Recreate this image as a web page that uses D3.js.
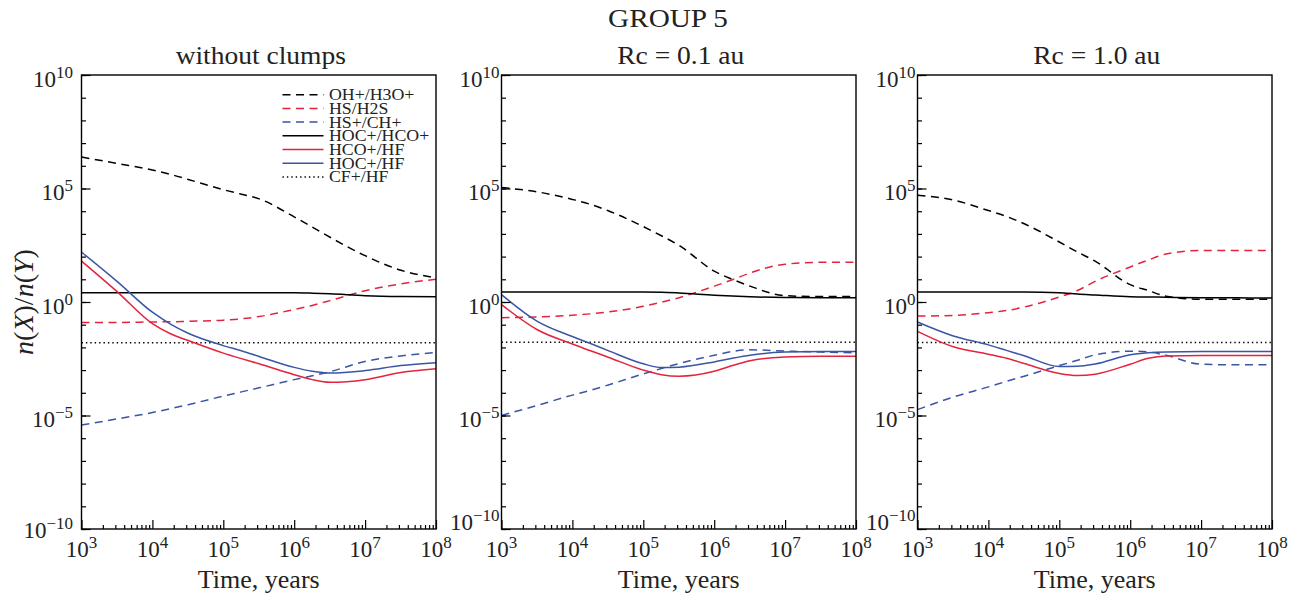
<!DOCTYPE html>
<html><head><meta charset="utf-8">
<script src="https://cdn.jsdelivr.net/npm/d3@7"></script>
<style>
body{margin:0;background:#fff;}
svg{display:block;font-family:"Liberation Serif","Times New Roman",serif;}
</style></head><body>
<svg id="chart" width="1304" height="596"></svg>
<script>
// ---------- data ----------
const mainTitle = "GROUP 5";
const panelTitles = ["without clumps", "Rc = 0.1 au", "Rc = 1.0 au"];
const xAxisTitle = "Time, years";
const seriesNames = ["OH+/H3O+", "HS/H2S", "HS+/CH+", "HOC+/HCO+", "HCO+/HF", "HOC+/HF", "CF+/HF"];
const xTickLabels = [1e3, 1e4, 1e5, 1e6, 1e7, 1e8];
const yTickLabels = [1e-10, 1e-5, 1e0, 1e5, 1e10];
const times = [1e3, 3.2e3, 1e4, 1.8e4, 3.2e4, 1e5, 1.8e5, 3.2e5, 1e6, 1.8e6, 3.2e6, 1e7, 3.2e7, 1e8];

// panel 1: without clumps (series in seriesNames order)
const ohH3o_noClumps  = [2.45e6, 1.26e6, 6.5e5, 4.2e5, 2.5e5, 8.9e4, 5.6e4, 3.5e4, 5.6e3, 2.0e3, 7.1e2, 1.1e2, 25, 11.7];
const hsH2s_noClumps  = [0.126, 0.126, 0.132, 0.135, 0.141, 0.158, 0.182, 0.229, 0.468, 0.708, 1.15, 3.16, 6.3, 10];
const hsCh_noClumps   = [3.8e-6, 7.1e-6, 1.35e-5, 2.0e-5, 3.0e-5, 7.2e-5, 1.1e-4, 1.66e-4, 3.8e-4, 5.6e-4, 8.5e-4, 2.4e-3, 4.2e-3, 5.9e-3];
const hocHco_noClumps = [2.57, 2.57, 2.57, 2.57, 2.57, 2.57, 2.57, 2.57, 2.55, 2.45, 2.3, 1.9, 1.74, 1.7];
const hcoHf_noClumps  = [63, 2.8, 0.112, 0.040, 0.020, 5.6e-3, 3.2e-3, 1.9e-3, 6.3e-4, 3.8e-4, 2.9e-4, 3.8e-4, 7.9e-4, 1.15e-3];
const hocHf_noClumps  = [158, 7.9, 0.355, 0.107, 0.042, 0.012, 7.1e-3, 4.0e-3, 1.32e-3, 8.9e-4, 7.4e-4, 9.5e-4, 1.58e-3, 2.1e-3];
const cfHf_noClumps   = [0.0162, 0.0162, 0.016, 0.016, 0.016, 0.016, 0.016, 0.016, 0.016, 0.016, 0.016, 0.016, 0.016, 0.016];

// panel 2: Rc = 0.1 au
const ohH3o_rc01  = [1.1e5, 7.1e4, 3.3e4, 2.0e4, 1.05e4, 2.1e3, 8.3e2, 3.1e2, 23, 10, 5.0, 1.9, 1.74, 1.74];
const hsH2s_rc01  = [0.204, 0.219, 0.263, 0.30, 0.363, 0.646, 0.98, 1.55, 5.0, 9.5, 19, 46, 56, 56];
const hsCh_rc01   = [1.0e-5, 2.8e-5, 7.9e-5, 1.29e-4, 2.2e-4, 6.8e-4, 1.17e-3, 1.95e-3, 4.5e-3, 6.6e-3, 7.8e-3, 6.9e-3, 6.2e-3, 5.8e-3];
const hocHco_rc01 = [2.75, 2.75, 2.75, 2.75, 2.75, 2.75, 2.7, 2.5, 2.0, 1.82, 1.7, 1.58, 1.55, 1.55];
const hcoHf_rc01  = [0.76, 0.060, 0.0141, 7.1e-3, 3.7e-3, 1.0e-3, 6.3e-4, 5.4e-4, 8.9e-4, 1.58e-3, 2.6e-3, 3.8e-3, 4.1e-3, 4.1e-3];
const hocHf_rc01  = [2.1, 0.141, 0.030, 0.0148, 7.2e-3, 1.9e-3, 1.29e-3, 1.35e-3, 2.3e-3, 3.3e-3, 4.5e-3, 6.2e-3, 6.6e-3, 6.6e-3];
const cfHf_rc01   = [0.017, 0.017, 0.017, 0.017, 0.017, 0.017, 0.017, 0.017, 0.017, 0.017, 0.017, 0.017, 0.017, 0.017];

// panel 3: Rc = 1.0 au
const ohH3o_rc10  = [5.1e4, 3.1e4, 1.07e4, 5.9e3, 2.8e3, 4.4e2, 1.6e2, 63, 5.8, 3.2, 1.8, 1.32, 1.32, 1.32];
const hsH2s_rc10  = [0.24, 0.257, 0.34, 0.42, 0.60, 1.66, 3.2, 8.1, 35, 71, 129, 186, 186, 186];
const hsCh_rc10   = [1.82e-5, 6.5e-5, 1.82e-4, 3.2e-4, 5.4e-4, 1.58e-3, 2.7e-3, 4.7e-3, 6.8e-3, 6.3e-3, 4.5e-3, 1.82e-3, 1.7e-3, 1.7e-3];
const hocHco_rc10 = [2.75, 2.75, 2.75, 2.75, 2.75, 2.57, 2.24, 2.04, 1.7, 1.66, 1.62, 1.55, 1.52, 1.5];
const hcoHf_rc10  = [0.051, 0.0107, 5.0e-3, 3.3e-3, 1.95e-3, 7.1e-4, 5.75e-4, 6.6e-4, 1.82e-3, 3.3e-3, 4.2e-3, 4.4e-3, 4.4e-3, 4.4e-3];
const hocHf_rc10  = [0.132, 0.032, 0.0129, 7.4e-3, 4.3e-3, 1.45e-3, 1.48e-3, 1.86e-3, 4.7e-3, 5.75e-3, 6.3e-3, 6.6e-3, 6.6e-3, 6.6e-3];
const cfHf_rc10   = [0.0165, 0.0165, 0.0165, 0.0165, 0.0165, 0.0165, 0.0165, 0.0165, 0.0165, 0.0165, 0.0165, 0.0165, 0.0165, 0.0165];

const panelSeries = [
  [ohH3o_noClumps, hsH2s_noClumps, hsCh_noClumps, hocHco_noClumps, hcoHf_noClumps, hocHf_noClumps, cfHf_noClumps],
  [ohH3o_rc01, hsH2s_rc01, hsCh_rc01, hocHco_rc01, hcoHf_rc01, hocHf_rc01, cfHf_rc01],
  [ohH3o_rc10, hsH2s_rc10, hsCh_rc10, hocHco_rc10, hcoHf_rc10, hocHf_rc10, cfHf_rc10]
];

// ---------- styles ----------
const RED = "#e4233f", BLUE = "#3a55a4", BLACK = "#000";
const seriesColor = [BLACK, RED, BLUE, BLACK, RED, BLUE, BLACK];
const seriesDash = ["8,5.5", "8,5.5", "8,5.5", null, null, null, "1.4,3"];
const panelLeft = [81.5, 501.5, 917.5];
const panelW = 354.5, plotTop = 75, plotBottom = 529;

const svg = d3.select("#chart");
const supText = (sel, v, baseSize, supSize) => {
  const e = Math.round(Math.log10(v));
  sel.append("tspan").attr("font-size", baseSize).text("10");
  sel.append("tspan").attr("font-size", supSize).attr("dy", -9)
     .text(String(e).replace("-", "\u2212"));
};

// main title
svg.append("text").attr("transform", "translate(668,27) scale(1.17,1)")
  .attr("text-anchor", "middle").attr("font-size", 25).attr("fill", "#222").text(mainTitle);

panelSeries.forEach((series, p) => {
  const L = panelLeft[p], R = L + panelW;
  const x = d3.scaleLog().domain([1e3, 1e8]).range([L, R]);
  const y = d3.scaleLog().domain([1e-10, 1e10]).range([plotBottom, plotTop]);
  const g = svg.append("g");

  // curves
  const line = d3.line().x((d, i) => x(times[i])).y(d => y(d)).curve(d3.curveMonotoneX);
  const order = [6, 0, 1, 2, 3, 4, 5];
  order.forEach(s => {
    g.append("path").datum(series[s]).attr("d", line)
      .attr("fill", "none").attr("stroke", seriesColor[s]).attr("stroke-width", 1.5)
      .attr("stroke-dasharray", seriesDash[s]);
  });

  // axes ticks (inside)
  const allY = d3.range(-10, 11).map(e => Math.pow(10, e));
  const yMinorAx = g.append("g").attr("transform", `translate(${L},0)`)
    .call(d3.axisLeft(y).tickValues(allY).tickSize(-4.5).tickSizeOuter(0).tickFormat(""));
  const yMajorAx = g.append("g").attr("transform", `translate(${L},0)`)
    .call(d3.axisLeft(y).tickValues(yTickLabels).tickSize(-9).tickSizeOuter(0).tickFormat(""));
  const xt = x.ticks();
  const xMinorAx = g.append("g").attr("transform", `translate(0,${plotBottom})`)
    .call(d3.axisBottom(x).tickValues(xt.filter(v => !xTickLabels.includes(v))).tickSize(-4).tickSizeOuter(0).tickFormat(""));
  const xMajorAx = g.append("g").attr("transform", `translate(0,${plotBottom})`)
    .call(d3.axisBottom(x).tickValues(xTickLabels).tickSize(-9).tickSizeOuter(0).tickFormat(""));
  [yMinorAx, yMajorAx, xMinorAx, xMajorAx].forEach(a => {
    a.select(".domain").remove();
    a.selectAll("line").attr("stroke", "#000").attr("stroke-width", 1.2);
  });

  // frame
  g.append("rect").attr("x", L).attr("y", plotTop).attr("width", panelW).attr("height", plotBottom - plotTop)
    .attr("fill", "none").attr("stroke", "#000").attr("stroke-width", 1.4);

  // tick labels
  const gap = p === 0 ? 8.5 : 2;
  yTickLabels.forEach((v, i) => {
    const dy = i === 0 ? (p === 0 ? 9 : 1) : 11.5;
    const t = g.append("text").attr("x", L - gap).attr("y", y(v) + dy)
      .attr("text-anchor", "end").attr("fill", "#222");
    supText(t, v, 23, 17);
  });
  xTickLabels.forEach(v => {
    const t = g.append("text").attr("x", x(v)).attr("y", 557)
      .attr("text-anchor", "middle").attr("fill", "#222");
    supText(t, v, 23, 17);
  });

  // titles
  const cx = (L + R) / 2;
  g.append("text").attr("transform", `translate(${cx + 2},64) scale(1.1,1)`)
    .attr("text-anchor", "middle").attr("font-size", 25).attr("fill", "#222").text(panelTitles[p]);
  g.append("text").attr("x", cx).attr("y", 588)
    .attr("text-anchor", "middle").attr("font-size", 26).attr("fill", "#222").text(xAxisTitle);

  if (p === 0) {
    // y axis label
    const yl = svg.append("text").attr("transform", "translate(33,302) rotate(-90)")
      .attr("text-anchor", "middle").attr("font-size", 28).attr("fill", "#222");
    yl.append("tspan").attr("font-style", "italic").text("n");
    yl.append("tspan").text("(");
    yl.append("tspan").attr("font-style", "italic").text("X");
    yl.append("tspan").text(")/");
    yl.append("tspan").attr("font-style", "italic").text("n");
    yl.append("tspan").text("(");
    yl.append("tspan").attr("font-style", "italic").text("Y");
    yl.append("tspan").text(")");

    // legend
    const lg = g.append("g");
    seriesNames.forEach((name, s) => {
      const ry = 94.7 + s * 13.7;
      lg.append("line").attr("x1", L + 201).attr("x2", L + 242).attr("y1", ry).attr("y2", ry)
        .attr("stroke", seriesColor[s]).attr("stroke-width", 1.5).attr("stroke-dasharray", seriesDash[s]);
      lg.append("text").attr("transform", `translate(${L + 247.5},${ry + 5.5}) scale(1.08,1)`)
        .attr("font-size", 16.5).attr("fill", "#222").text(name);
    });
  }
});
</script>
</body></html>
